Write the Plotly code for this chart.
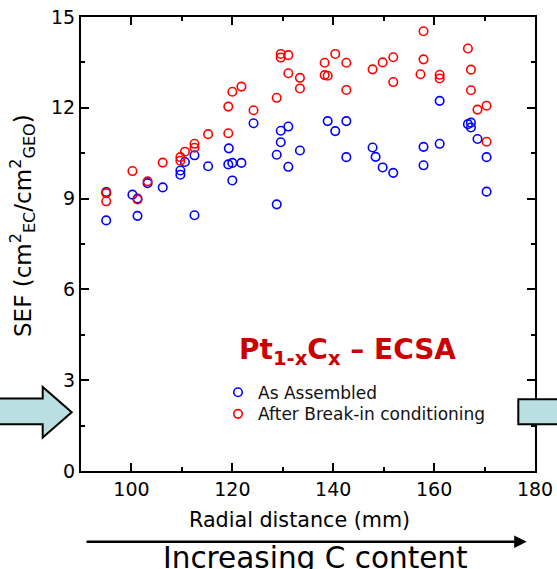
import plotly.graph_objects as go

# ---------------- data ----------------
radial_as = [95.0, 95.0, 100.2, 101.2, 101.2, 103.2, 106.2, 109.7, 109.7, 110.6,
             112.5, 112.5, 115.2, 119.3, 119.2, 120.0, 120.0, 121.8, 124.2, 128.8,
             128.8, 129.6, 129.6, 131.1, 131.1, 133.4, 138.9, 140.4, 142.6, 142.6,
             147.8, 148.4, 149.8, 151.9, 157.9, 157.9, 161.1, 161.1, 166.7, 167.3,
             167.3, 168.6, 170.4, 170.4]
sef_as = [9.22, 8.28, 9.13, 9.00, 8.43, 9.51, 9.37, 9.93, 9.79, 10.21,
          10.43, 8.45, 10.07, 10.66, 10.13, 10.18, 9.60, 10.18, 11.49, 10.45,
          8.81, 11.24, 10.86, 11.38, 10.05, 10.59, 11.56, 11.23, 11.56, 10.37,
          10.69, 10.38, 10.03, 9.85, 10.71, 10.10, 12.23, 10.81, 11.46, 11.51,
          11.35, 10.97, 10.37, 9.23]

radial_bi = [95.0, 95.0, 100.2, 101.2, 103.2, 106.2, 109.7, 109.7, 110.6, 112.5,
             112.5, 115.2, 119.2, 119.2, 120.0, 121.8, 124.2, 128.8, 129.6, 129.6,
             131.1, 131.1, 133.4, 133.4, 138.3, 138.3, 138.9, 140.4, 142.6, 142.6,
             147.8, 149.8, 151.9, 151.9, 157.3, 157.9, 157.9, 161.1, 161.1, 166.7,
             167.3, 167.3, 168.6, 170.4, 170.4]
sef_bi = [9.18, 8.91, 9.91, 8.97, 9.57, 10.19, 10.37, 10.25, 10.55, 10.81,
          10.68, 11.13, 12.04, 11.16, 12.53, 12.70, 11.92, 12.33, 13.78, 13.66,
          13.74, 13.14, 12.99, 12.64, 13.49, 13.08, 13.06, 13.78, 13.49, 12.59,
          13.27, 13.50, 13.67, 12.85, 13.11, 14.53, 13.60, 13.09, 12.97, 13.96,
          13.26, 12.58, 11.94, 12.07, 10.88]

series_names = ["As Assembled", "After Break-in conditioning"]
x_ticks = [100, 120, 140, 160, 180]
y_ticks = [0, 3, 6, 9, 12, 15]

# ---------------- layout geometry (pixels) ----------------
W, H = 557, 569
ML, MR, MT, MB = 81, 22, 17, 98
PW = W - ML - MR
PH = H - MT - MB


def px(xp):
    return (xp - ML) / PW


def py(yp):
    return (H - MB - yp) / PH


FONT = "DejaVu Sans"

fig = go.Figure()
fig.add_trace(go.Scatter(
    x=radial_as, y=sef_as, mode="markers", name=series_names[0],
    marker=dict(symbol="circle-open", size=8.5, color="#0000ff",
                line=dict(width=1.6, color="#0000ff")),
    showlegend=True, legend="legend"))
fig.add_trace(go.Scatter(
    x=radial_bi, y=sef_bi, mode="markers", name=series_names[1],
    marker=dict(symbol="circle-open", size=8.5, color="#ff0000",
                line=dict(width=1.6, color="#ff0000")),
    showlegend=True, legend="legend2"))

axis_common = dict(showline=True, linecolor="black", linewidth=2, mirror="ticks",
                   ticks="inside", ticklen=8, tickwidth=2, tickcolor="black",
                   showgrid=False, zeroline=False, automargin=False,
                   tickfont=dict(family=FONT, size=19, color="black"))

fig.update_xaxes(range=[90, 180], tickvals=x_ticks,
                 minor=dict(dtick=10, tick0=90, ticks="inside", ticklen=4, tickwidth=2,
                            tickcolor="black"),
                 **axis_common)
fig.update_yaxes(range=[0, 15], tickvals=y_ticks,
                 minor=dict(dtick=1.5, tick0=0, ticks="inside", ticklen=4, tickwidth=2,
                            tickcolor="black"),
                 **axis_common)

legend_common = dict(bgcolor="rgba(0,0,0,0)", borderwidth=0, visible=True,
                     font=dict(family=FONT, size=17, color="#111111"),
                     xanchor="left", yanchor="middle", xref="paper", yref="paper")

fig.update_layout(
    width=W, height=H, showlegend=True,
    margin=dict(l=ML, r=MR, t=MT, b=MB, pad=0, autoexpand=False),
    paper_bgcolor="white", plot_bgcolor="white",
    legend=dict(x=px(218), y=py(392.7), **legend_common),
    legend2=dict(x=px(218), y=py(414.3), **legend_common),
    font=dict(family=FONT, color="black"),
)

# x axis title
fig.add_annotation(
    text="Radial distance (mm)", xref="paper", yref="paper",
    x=px(299), y=py(520), showarrow=False, xanchor="center", yanchor="middle",
    font=dict(family=FONT, size=20.7, color="black"))

# y axis title
fig.add_annotation(
    text="SEF (cm<sup>2</sup><sub>EC</sub>/cm<sup>2</sup><sub>GEO</sub>)",
    xref="paper", yref="paper", x=px(22), y=py(226), textangle=-90,
    showarrow=False, xanchor="center", yanchor="middle",
    font=dict(family=FONT, size=23, color="black"))

# chart label
fig.add_annotation(
    text="Pt<sub>1-x</sub>C<sub>x</sub> \u2013 ECSA",
    xref="paper", yref="paper", x=px(347.5), y=py(351), showarrow=False,
    xanchor="center", yanchor="middle",
    font=dict(family=FONT, size=28, color="#cc0000", weight="bold"))

# bottom arrow
fig.add_annotation(
    text="", xref="paper", yref="paper", x=px(526.7), y=py(541.7),
    ax=85 - 526.7, ay=0, axref="pixel", ayref="pixel",
    showarrow=True, arrowhead=2, arrowsize=1, arrowwidth=2.5, arrowcolor="black")
fig.add_annotation(
    text="Increasing C content", xref="paper", yref="paper",
    x=px(315), y=py(538.5), showarrow=False, xanchor="center", yanchor="top",
    font=dict(family=FONT, size=29.5, color="black"))

# light blue block arrows (decorative)
def path(points):
    s = "M " + " L ".join(f"{px(a):.5f},{py(b):.5f}" for a, b in points) + " Z"
    return s

left_arrow = [(-5, 398.5), (42.7, 398.5), (42.7, 387), (71.7, 412.3),
              (42.7, 437.6), (42.7, 424.3), (-5, 424.3)]
right_arrow = [(518.3, 399.3), (580, 399.3), (580, 424.3), (518.3, 424.3)]
for pts in (left_arrow, right_arrow):
    fig.add_shape(type="path", path=path(pts), xref="paper", yref="paper",
                  fillcolor="#b9dfe2", line=dict(color="black", width=2), layer="above")

fig.write_html("out.html")
